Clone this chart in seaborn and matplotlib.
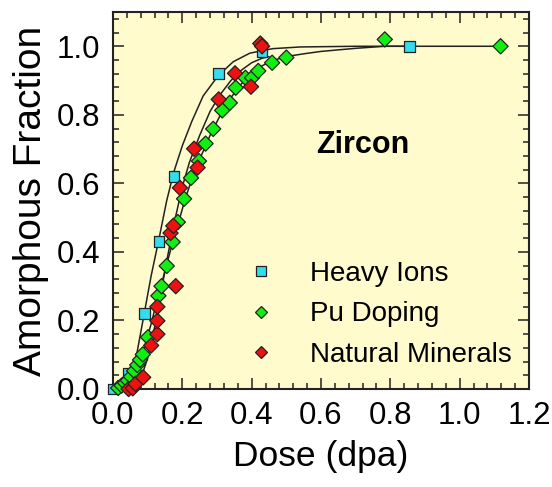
import numpy as np
import pandas as pd
import matplotlib
matplotlib.use("Agg")
import matplotlib.pyplot as plt
from matplotlib.ticker import MultipleLocator
import seaborn as sns

heavy_x = [0.0, 0.043, 0.09, 0.133, 0.176, 0.304, 0.43, 0.856]
heavy_y = [0.0, 0.047, 0.22, 0.431, 0.619, 0.921, 0.984, 1.0]

pu_x = [0.015, 0.025, 0.035, 0.043, 0.052, 0.061, 0.070, 0.078, 0.086, 0.101,
        0.131, 0.140, 0.155, 0.172, 0.187, 0.205, 0.225, 0.248, 0.267, 0.289,
        0.315, 0.337, 0.354, 0.382, 0.401, 0.419, 0.459, 0.50, 0.784, 1.118]
pu_y = [0.003, 0.010, 0.018, 0.025, 0.036, 0.053, 0.070, 0.085, 0.101, 0.151,
        0.272, 0.300, 0.359, 0.429, 0.487, 0.555, 0.616, 0.665, 0.716, 0.759,
        0.813, 0.835, 0.879, 0.908, 0.908, 0.928, 0.952, 0.967, 1.02, 1.0]

nat_x = [0.045, 0.057, 0.065, 0.087, 0.110, 0.128, 0.128, 0.128, 0.166, 0.174,
         0.181, 0.193, 0.234, 0.244, 0.305, 0.352, 0.398, 0.425, 0.43]
nat_y = [0.0, 0.002, 0.015, 0.034, 0.127, 0.160, 0.199, 0.240, 0.455, 0.476,
         0.300, 0.587, 0.701, 0.646, 0.845, 0.921, 0.882, 1.008, 1.0]

# fitted curves
heavy_fit_x = [0.03, 0.05, 0.07, 0.09, 0.11, 0.133, 0.155, 0.176, 0.20, 0.227,
               0.26, 0.304, 0.347, 0.395, 0.46, 0.54, 0.70, 0.856]
heavy_fit_y = [0.0, 0.03, 0.11, 0.22, 0.33, 0.44, 0.55, 0.635, 0.71, 0.78,
               0.855, 0.915, 0.955, 0.98, 0.993, 0.998, 1.0, 1.0]

pu_fit_x = [0.03, 0.05, 0.07, 0.09, 0.11, 0.13, 0.15, 0.17, 0.19, 0.21, 0.23,
            0.25, 0.28, 0.31, 0.34, 0.37, 0.40, 0.43, 0.46, 0.50, 0.55, 0.60,
            0.70, 0.784, 1.118]
pu_fit_y = [0.0, 0.02, 0.06, 0.12, 0.19, 0.27, 0.345, 0.42, 0.49, 0.56, 0.62,
            0.67, 0.74, 0.80, 0.85, 0.89, 0.92, 0.943, 0.958, 0.97, 0.978, 0.985,
            0.994, 1.0, 1.0]

nat_fit_x = [0.06, 0.08, 0.10, 0.12, 0.14, 0.16, 0.18, 0.20, 0.22, 0.25, 0.28,
             0.31, 0.34, 0.37, 0.40, 0.43, 0.45]
nat_fit_y = [0.0, 0.03, 0.09, 0.18, 0.29, 0.40, 0.50, 0.59, 0.66, 0.74, 0.81,
             0.86, 0.90, 0.93, 0.952, 0.965, 0.97]

series = ["Heavy Ions", "Pu Doping", "Natural Minerals"]
colors = {"Heavy Ions": "#33DDEE", "Pu Doping": "#11EE11", "Natural Minerals": "#EE1111"}
markers = {"Heavy Ions": "s", "Pu Doping": "D", "Natural Minerals": "D"}

df = pd.concat([
    pd.DataFrame({"x": heavy_x, "y": heavy_y, "src": "Heavy Ions"}),
    pd.DataFrame({"x": pu_x, "y": pu_y, "src": "Pu Doping"}),
    pd.DataFrame({"x": nat_x, "y": nat_y, "src": "Natural Minerals"}),
])

sns.set_style("ticks")
plt.rcParams["font.family"] = ["Liberation Sans", "DejaVu Sans"]
plt.rcParams["text.color"] = "black"
plt.rcParams["axes.labelcolor"] = "black"
plt.rcParams["xtick.color"] = "black"
plt.rcParams["ytick.color"] = "black"

fig = plt.figure(figsize=(5.52, 4.87), dpi=100)
ax = fig.add_axes([113 / 552, 98 / 487, 416 / 552, 377 / 487])
ax.set_facecolor("#FFFBCC")

for fx, fy in [(heavy_fit_x, heavy_fit_y), (pu_fit_x, pu_fit_y), (nat_fit_x, nat_fit_y)]:
    sns.lineplot(x=fx, y=fy, sort=False, estimator=None, color="#222222",
                 linewidth=1.1, ax=ax, legend=False, zorder=1)

sns.scatterplot(data=df, x="x", y="y", hue="src", style="src", hue_order=series,
                style_order=series, palette=colors, markers=markers, s=60,
                edgecolor="#222222", linewidth=0.9, clip_on=False, zorder=3, ax=ax)

ax.set_xlim(0, 1.2)
ax.set_ylim(0, 1.1)
ax.xaxis.set_minor_locator(MultipleLocator(0.04))
ax.yaxis.set_minor_locator(MultipleLocator(0.04))
ax.set_xticks([0, 0.2, 0.4, 0.6, 0.8, 1.0, 1.2])
ax.set_xticklabels(["0.0", "0.2", "0.4", "0.6", "0.8", "1.0", "1.2"])
ax.set_yticks([0, 0.2, 0.4, 0.6, 0.8, 1.0])
ax.set_yticklabels(["0.0", "0.2", "0.4", "0.6", "0.8", "1.0"])
ax.tick_params(which="both", direction="in", top=True, right=True, width=1.1, color="#222222")
ax.tick_params(which="major", length=8, labelsize=22.5, pad=9)
ax.tick_params(which="minor", length=4.5)
for sp in ax.spines.values():
    sp.set_linewidth(1.5)
    sp.set_color("#222222")

ax.set_xlabel("Dose (dpa)", fontsize=25.5, labelpad=6)
ax.set_ylabel("Amorphous Fraction", fontsize=28, labelpad=6)

ax.text(0.60, 0.648, "Zircon", transform=ax.transAxes, fontsize=22,
        fontweight="bold", ha="center", va="center")

sns.move_legend(ax, "upper left", bbox_to_anchor=(0.275, 0.37), frameon=False,
                title=None, fontsize=20, markerscale=0.85, handlelength=1.6,
                handletextpad=0.96, labelspacing=0.53, borderaxespad=0)

fig.savefig("out.png", dpi=100)
